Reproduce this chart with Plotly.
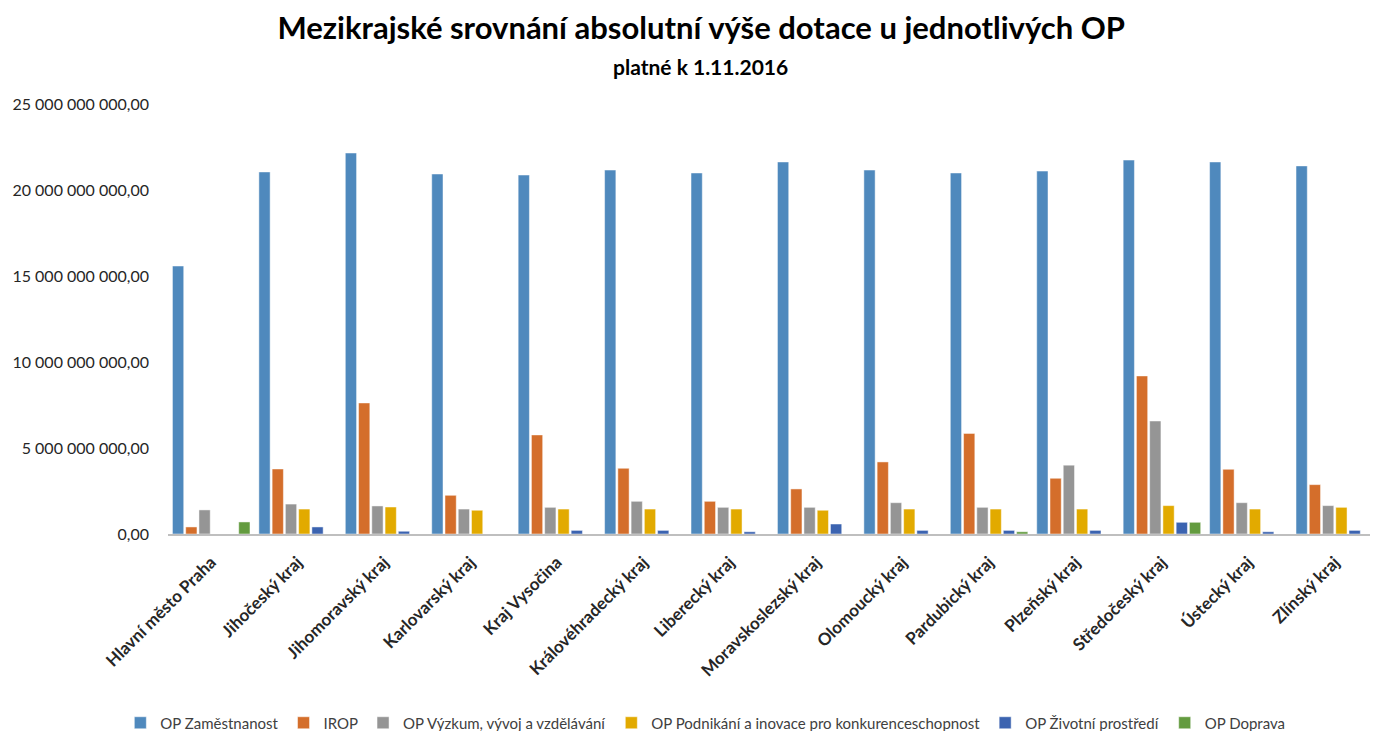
import plotly.graph_objects as go

categories = ["Hlavní město Praha", "Jihočeský kraj", "Jihomoravský kraj", "Karlovarský kraj",
              "Kraj Vysočina", "Královéhradecký kraj", "Liberecký kraj", "Moravskoslezský kraj",
              "Olomoucký kraj", "Pardubický kraj", "Plzeňský kraj", "Středočeský kraj",
              "Ústecký kraj", "Zlínský kraj"]

op_zamestnanost = [15.58e9, 21.05e9, 22.15e9, 20.93e9, 20.87e9, 21.16e9, 20.99e9, 21.63e9,
                   21.16e9, 20.99e9, 21.10e9, 21.74e9, 21.63e9, 21.40e9]
irop = [0.41e9, 3.78e9, 7.62e9, 2.25e9, 5.76e9, 3.82e9, 1.90e9, 2.62e9,
        4.19e9, 5.85e9, 3.24e9, 9.19e9, 3.76e9, 2.87e9]
op_vyzkum = [1.40e9, 1.74e9, 1.63e9, 1.45e9, 1.55e9, 1.90e9, 1.55e9, 1.55e9,
             1.82e9, 1.55e9, 4.00e9, 6.57e9, 1.82e9, 1.65e9]
op_podnikani = [0.0, 1.45e9, 1.57e9, 1.38e9, 1.45e9, 1.45e9, 1.45e9, 1.38e9,
                1.45e9, 1.45e9, 1.45e9, 1.65e9, 1.45e9, 1.55e9]
op_zivotni = [0.0, 0.41e9, 0.16e9, 0.0, 0.21e9, 0.21e9, 0.13e9, 0.58e9,
              0.21e9, 0.21e9, 0.21e9, 0.68e9, 0.13e9, 0.21e9]
op_doprava = [0.70e9, 0.0, 0.0, 0.0, 0.0, 0.0, 0.0, 0.0,
              0.0, 0.13e9, 0.0, 0.68e9, 0.0, 0.0]

series_names = ["OP Zaměstnanost", "IROP", "OP Výzkum, vývoj a vzdělávání",
                "OP Podnikání a inovace pro konkurenceschopnost", "OP Životní prostředí", "OP Doprava"]
series_values = [op_zamestnanost, irop, op_vyzkum, op_podnikani, op_zivotni, op_doprava]
colors = ["#4F89BD", "#D46E2B", "#959595", "#E2AA00", "#3B63B0", "#639B3F"]

y_ticks = [0, 5e9, 10e9, 15e9, 20e9, 25e9]

FONT = "Lato"
W, H = 1370, 723

fig = go.Figure()
for name, vals, col in zip(series_names, series_values, colors):
    fig.add_trace(go.Bar(
        x=categories, y=vals, name=name,
        marker=dict(color=col, line=dict(color="rgba(255,255,255,0.6)", width=0.8)),
    ))

fig.add_annotation(
    text="<b>platné k 1.11.2016</b>", xref="paper", yref="paper",
    x=0.44, y=1.088, xanchor="center", yanchor="middle", showarrow=False,
    font=dict(family=FONT, size=21, color="black"),
)

fig.update_layout(
    width=W, height=H,
    barmode="group", bargap=0.08, bargroupgap=0.15,
    paper_bgcolor="white", plot_bgcolor="white",
    separators=", ",
    font=dict(family=FONT, color="#404040"),
    margin=dict(l=160, r=0, t=96, b=197, autoexpand=False),
    title=dict(
        text="<b>Mezikrajské srovnání absolutní výše dotace u jednotlivých OP</b>",
        x=0.506, xanchor="center", xref="container",
        y=1 - 20 / H, yanchor="middle", yref="container",
        font=dict(family=FONT, size=31, color="black"),
    ),
    xaxis=dict(
        tickangle=-45, showline=True, linecolor="#BFBFBF", linewidth=1.5,
        ticks="", tickfont=dict(family=FONT, size=17, color="#262626", weight="bold"),
        showgrid=False, automargin=False, ticklabelstandoff=10,
    ),
    yaxis=dict(
        range=[0, 25e9], tickvals=y_ticks, tickformat=",.2f",
        showgrid=False, zeroline=False, showline=False, ticks="",
        tickfont=dict(family=FONT, size=16, color="#262626"), ticklabelstandoff=18,
        automargin=False,
    ),
    legend=dict(
        orientation="h", xref="container", yref="container",
        x=0.509, xanchor="center", y=1 - 715 / H, yanchor="middle",
        font=dict(family=FONT, size=15, color="#404040"),
        traceorder="normal", itemwidth=30,
    ),
)

fig.write_html("out.html")
